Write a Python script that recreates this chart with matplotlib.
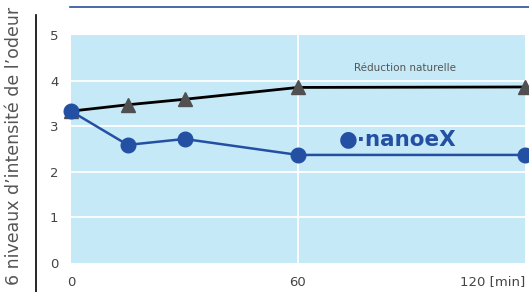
import matplotlib
matplotlib.use("Agg")
import matplotlib.pyplot as plt
from matplotlib.lines import Line2D

time_min = [0, 15, 30, 60, 120]
natural = [3.33, 3.47, 3.59, 3.85, 3.86]
nanoe = [3.33, 2.59, 2.72, 2.37, 2.37]
x_ticks = [0, 60, 120]
x_labels = ["0", "60", "120 [min]"]
y_ticks = [0, 1, 2, 3, 4, 5]

fig = plt.figure(figsize=(5.29, 2.92), dpi=100)
ax = fig.add_axes([71/529, 1-263/292, 454/529, 228/292])
ax.set_facecolor("#c6e9f7")
ax.set_xlim(0, 120)
ax.set_ylim(0, 5)
for s in ax.spines.values():
    s.set_visible(False)
for y in [1, 2, 3, 4]:
    ax.axhline(y, color="white", lw=1.3, zorder=1)
ax.axvline(60, color="white", lw=1.3, zorder=1)

ax.plot(time_min, natural, color="black", lw=2.0, zorder=3, clip_on=False)
ax.plot(time_min, natural, ls="none", marker="^", ms=10, color="#505050", zorder=4, clip_on=False)
ax.plot(time_min, nanoe, color="#2350a3", lw=1.8, marker="o", ms=10.5, zorder=5, clip_on=False)

ax.set_xticks(x_ticks)
ax.set_xticklabels(x_labels)
ax.set_yticks(y_ticks)
ax.tick_params(length=0, labelsize=9.5, colors="#444444", pad=9)
labs = ax.get_xticklabels()
labs[-1].set_horizontalalignment("right")

ax.text(0.735, 0.855, "Réduction naturelle", transform=ax.transAxes, fontsize=7.5,
        color="#555555", ha="center", va="center")
ax.text(0.59, 0.545, "●·nanoeX", transform=ax.transAxes, fontsize=15.5, color="#2350a3",
        ha="left", va="center", fontweight="bold")

fig.text(14/529, 0.5, "6 niveaux d\u2019intensité de l\u2019odeur", rotation=90,
         fontsize=12.5, color="#555555", ha="center", va="center")
fig.add_artist(Line2D([36/529, 36/529], [0, 1-15/292], color="black", lw=1.2))
fig.add_artist(Line2D([70/529, 1], [1-7/292, 1-7/292], color="#2a4f9a", lw=1.2))

fig.savefig("out.png", dpi=100)
